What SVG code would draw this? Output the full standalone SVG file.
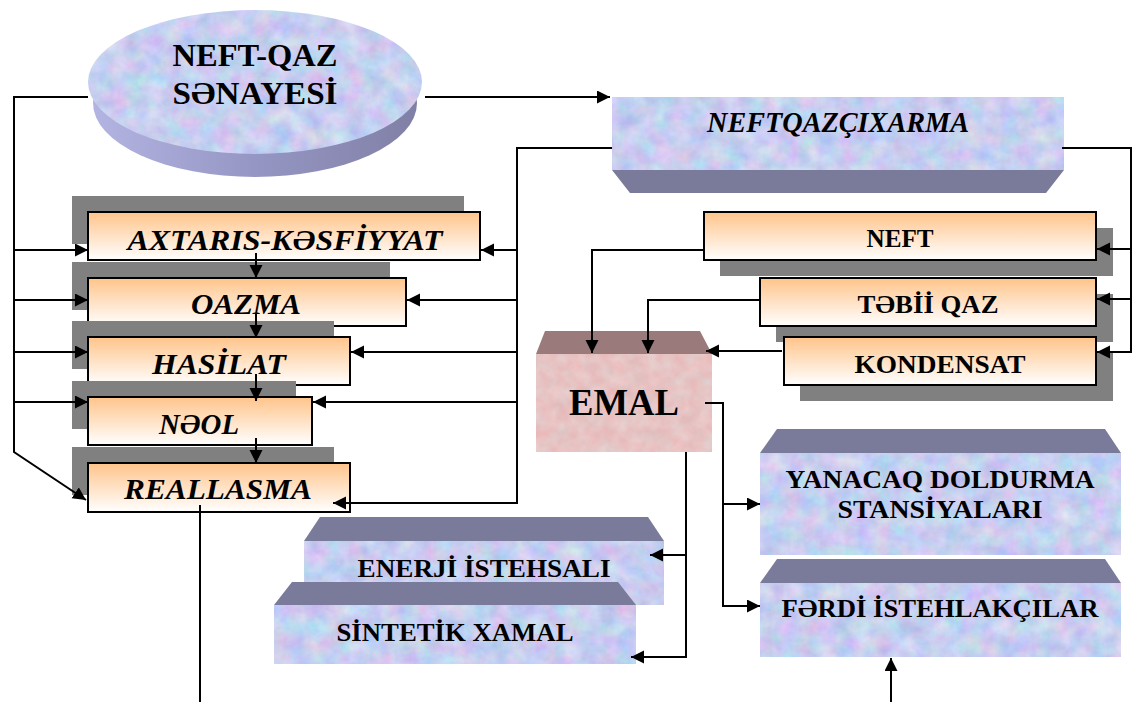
<svg xmlns="http://www.w3.org/2000/svg" width="1134" height="702" viewBox="0 0 1134 702">
<style>
.ln{fill:none;stroke:#000;stroke-width:2}
.ar{marker-end:url(#ah)}
.sh{fill:#808080}
.ob{fill:url(#og);stroke:#000;stroke-width:2}
.bv{fill:#7A7A9A}
.ti{font-family:"Liberation Serif",serif;font-weight:bold;font-style:italic;font-size:30px;text-anchor:middle;fill:#000}
.tb{font-family:"Liberation Serif",serif;font-weight:bold;font-size:25px;text-anchor:middle;fill:#000}
</style>
<defs>
<linearGradient id="og" x1="0" y1="0" x2="0" y2="1">
<stop offset="0" stop-color="#FFC48A"/><stop offset="1" stop-color="#FFFFFF"/>
</linearGradient>
<linearGradient id="side" x1="0" y1="0" x2="1" y2="0">
<stop offset="0" stop-color="#B4B4E2"/><stop offset="0.5" stop-color="#9696C4"/><stop offset="1" stop-color="#8080A6"/>
</linearGradient>
<filter id="tex" x="0" y="0" width="1" height="1" color-interpolation-filters="sRGB">
<feTurbulence type="fractalNoise" baseFrequency="0.055" numOctaves="4" seed="3" result="n"/>
<feColorMatrix in="n" type="matrix" values="0.3 0 0 0 0.63  0 0.24 0 0 0.69  0 0 0.12 0 0.88  0 0 0 0 1" result="c"/>
<feComposite in="c" in2="SourceGraphic" operator="in"/>
</filter>
<filter id="pink" x="0" y="0" width="1" height="1" color-interpolation-filters="sRGB">
<feTurbulence type="fractalNoise" baseFrequency="0.07" numOctaves="3" seed="7" result="n"/>
<feColorMatrix in="n" type="matrix" values="0.08 0 0 0 0.865  0 0 0.14 0 0.695  0 0 0.14 0 0.695  0 0 0 0 1" result="c"/>
<feComposite in="c" in2="SourceGraphic" operator="in"/>
</filter>
<marker id="ah" markerUnits="userSpaceOnUse" markerWidth="14" markerHeight="14" refX="13" refY="6.5" orient="auto">
<path d="M0,0 L13,6.5 L0,13 z" fill="#000"/>
</marker>
</defs>
<rect width="1134" height="702" fill="#fff"/>

<g id="neft-qaz">
<ellipse cx="255" cy="103" rx="162" ry="74" fill="url(#side)"/>
<ellipse cx="255" cy="82" rx="167" ry="72" fill="#C8D0F0" filter="url(#tex)"/>
<text x="255" y="66" font-family="Liberation Serif,serif" font-weight="bold" font-size="32" text-anchor="middle" textLength="165" lengthAdjust="spacingAndGlyphs">NEFT-QAZ</text>
<text x="255" y="104" font-family="Liberation Serif,serif" font-weight="bold" font-size="32" text-anchor="middle" textLength="165" lengthAdjust="spacingAndGlyphs">SƏNAYESİ</text>
</g>

<g id="neftqazcixarma">
<polygon class="bv" points="612,170 1064,170 1046,193 630,193"/>
<rect x="612" y="97" width="452" height="73" fill="#C8D0F0" filter="url(#tex)"/>
<text class="ti" x="838" y="132" font-size="26" textLength="262" lengthAdjust="spacingAndGlyphs">NEFTQAZÇIXARMA</text>
</g>

<g id="axtaris">
<rect class="sh" x="72" y="196" width="392" height="48"/>
<rect class="ob" x="88" y="212" width="392" height="48"/>
<text class="ti" x="285" y="250" textLength="315" lengthAdjust="spacingAndGlyphs">AXTARIS-KƏSFİYYAT</text>
</g>
<g id="oazma">
<rect class="sh" x="72" y="262" width="318" height="48"/>
<rect class="ob" x="88" y="278" width="318" height="48"/>
<text class="ti" x="246" y="314" textLength="110" lengthAdjust="spacingAndGlyphs">OAZMA</text>
</g>
<g id="hasilat">
<rect class="sh" x="72" y="321" width="262" height="48"/>
<rect class="ob" x="88" y="337" width="262" height="48"/>
<text class="ti" x="219" y="374" textLength="134" lengthAdjust="spacingAndGlyphs">HASİLAT</text>
</g>
<g id="neol">
<rect class="sh" x="72" y="381" width="224" height="48"/>
<rect class="ob" x="88" y="397" width="224" height="48"/>
<text class="ti" x="199" y="434" textLength="80" lengthAdjust="spacingAndGlyphs">NƏOL</text>
</g>
<g id="reallasma">
<rect class="sh" x="72" y="447" width="262" height="48"/>
<rect class="ob" x="88" y="463" width="262" height="49"/>
<text class="ti" x="218" y="499" textLength="188" lengthAdjust="spacingAndGlyphs">REALLASMA</text>
</g>

<g id="neft">
<rect class="sh" x="720" y="228" width="393" height="48"/>
<rect class="ob" x="704" y="212" width="392" height="48"/>
<text class="tb" x="900" y="247" textLength="67" lengthAdjust="spacingAndGlyphs">NEFT</text>
</g>
<g id="tebii-qaz">
<rect class="sh" x="776" y="294" width="337" height="48"/>
<rect class="ob" x="760" y="278" width="336" height="48"/>
<text class="tb" x="928" y="313" textLength="141" lengthAdjust="spacingAndGlyphs">TƏBİİ QAZ</text>
</g>
<g id="kondensat">
<rect class="sh" x="800" y="353" width="313" height="48"/>
<rect class="ob" x="784" y="337" width="312" height="48"/>
<text class="tb" x="940" y="373" textLength="171" lengthAdjust="spacingAndGlyphs">KONDENSAT</text>
</g>

<g id="emal">
<polygon points="545,331 700,331 712,354 536,354" fill="#9A7A7A"/>
<rect x="536" y="354" width="176" height="98" fill="#E8C0C0" filter="url(#pink)"/>
<text x="624" y="415" font-family="Liberation Serif,serif" font-weight="bold" font-size="38" text-anchor="middle" textLength="110" lengthAdjust="spacingAndGlyphs">EMAL</text>
</g>

<g id="yanacaq">
<polygon class="bv" points="777,429 1105,429 1121,453 760,453"/>
<rect x="760" y="453" width="361" height="102" fill="#C8D0F0" filter="url(#tex)"/>
<text class="tb" x="940" y="488" textLength="309" lengthAdjust="spacingAndGlyphs">YANACAQ DOLDURMA</text>
<text class="tb" x="940" y="518" textLength="205" lengthAdjust="spacingAndGlyphs">STANSİYALARI</text>
</g>
<g id="ferdi">
<polygon class="bv" points="777,559 1105,559 1121,583 760,583"/>
<rect x="760" y="583" width="361" height="74" fill="#C8D0F0" filter="url(#tex)"/>
<text class="tb" x="940" y="617" textLength="317" lengthAdjust="spacingAndGlyphs">FƏRDİ İSTEHLAKÇILAR</text>
</g>

<g id="enerji">
<polygon class="bv" points="320,517 648,517 664,541 304,541"/>
<rect x="304" y="541" width="360" height="64" fill="#C8D0F0" filter="url(#tex)"/>
<text class="tb" x="484" y="577" textLength="253" lengthAdjust="spacingAndGlyphs">ENERJİ İSTEHSALI</text>
</g>
<g id="sintetik">
<polygon class="bv" points="292,582 618,582 636,605 274,605"/>
<rect x="274" y="605" width="362" height="59" fill="#C8D0F0" filter="url(#tex)"/>
<text class="tb" x="455" y="641" textLength="237" lengthAdjust="spacingAndGlyphs">SİNTETİK XAMAL</text>
</g>

<g id="connectors">
<path class="ln ar" d="M88,97 H14 V452 L86,500"/>
<path class="ln ar" d="M14,250 H88"/>
<path class="ln ar" d="M14,300 H88"/>
<path class="ln ar" d="M14,352 H88"/>
<path class="ln ar" d="M14,402 H88"/>
<path class="ln ar" d="M425,97 H610"/>
<path class="ln ar" d="M612,148 H517 V503 H333"/>
<path class="ln ar" d="M517,250 H481"/>
<path class="ln ar" d="M517,300 H407"/>
<path class="ln ar" d="M517,352 H351"/>
<path class="ln ar" d="M517,402 H313"/>
<path class="ln ar" d="M256,253 V278"/>
<path class="ln ar" d="M256,313 V338"/>
<path class="ln ar" d="M256,374 V401"/>
<path class="ln ar" d="M256,438 V463"/>
<path class="ln" d="M200,505 V702"/>
<path class="ln ar" d="M1062,148 H1131 V352 H1097"/>
<path class="ln ar" d="M1131,249 H1097"/>
<path class="ln ar" d="M1131,299 H1097"/>
<path class="ln ar" d="M704,250 H592 V353"/>
<path class="ln ar" d="M760,300 H648 V353"/>
<path class="ln ar" d="M782,351 H706"/>
<path class="ln ar" d="M705,403 H723 V606 H760"/>
<path class="ln ar" d="M723,504 H760"/>
<path class="ln ar" d="M686,452 V657 H631"/>
<path class="ln ar" d="M686,555 H650"/>
<path class="ln ar" d="M891,702 V658"/>
</g>
</svg>
